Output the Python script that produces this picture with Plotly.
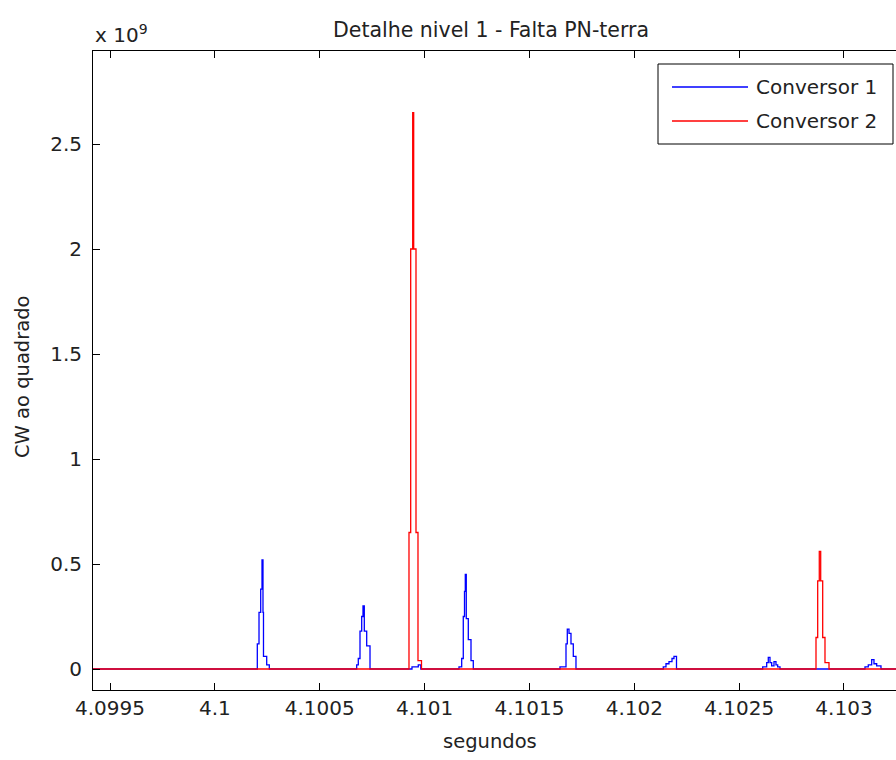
import plotly.graph_objects as go

# ---------------- data (time in s, CW^2 in units of 1e9) ----------------
t_start = 4.0994189
t_end = 4.1032480

conv1_t = [t_start,
           4.1002024, 4.1002105, 4.1002186, 4.1002248, 4.1002295, 4.1002319, 4.1002472, 4.1002596,
           4.1006763, 4.1006840, 4.1006921, 4.1007002, 4.1007064, 4.1007126, 4.1007240, 4.1007398,
           4.1009400, 4.1009700, 4.1009820,
           4.1011641, 4.1011770, 4.1011846, 4.1011904, 4.1011942, 4.1011989, 4.1012085, 4.1012214, 4.1012323,
           4.1016457, 4.1016744, 4.1016806, 4.1016887, 4.1016982, 4.1017092, 4.1017220,
           4.1021383, 4.1021512, 4.1021655, 4.1021798, 4.1021893, 4.1022013,
           4.1026123, 4.1026314, 4.1026390, 4.1026471, 4.1026552, 4.1026662, 4.1026757, 4.1026838, 4.1026948,
           4.1031001, 4.1031158, 4.1031321, 4.1031430, 4.1031559, 4.1031764,
           t_end]
conv1_v = [0.0,
           0.12, 0.27, 0.38, 0.52, 0.27, 0.06, 0.02, 0.0,
           0.02, 0.05, 0.18, 0.25, 0.30, 0.18, 0.11, 0.0,
           0.01, 0.02, 0.0,
           0.01, 0.05, 0.25, 0.37, 0.45, 0.24, 0.14, 0.04, 0.0,
           0.01, 0.12, 0.19, 0.17, 0.12, 0.06, 0.0,
           0.01, 0.025, 0.035, 0.05, 0.06, 0.0,
           0.01, 0.03, 0.055, 0.03, 0.015, 0.035, 0.02, 0.01, 0.0,
           0.01, 0.02, 0.045, 0.025, 0.015, 0.0,
           0.0]

conv2_t = [t_start,
           4.1009257, 4.1009338, 4.1009434, 4.1009481, 4.1009591, 4.1009686, 4.1009853,
           4.1028665, 4.1028746, 4.1028822, 4.1028889, 4.1028984, 4.1029094, 4.1029285,
           t_end]
conv2_v = [0.0,
           0.65, 2.0, 2.65, 2.0, 0.65, 0.04, 0.0,
           0.15, 0.42, 0.56, 0.42, 0.15, 0.03, 0.0,
           0.0]

x_ticks = [4.0995, 4.1, 4.1005, 4.101, 4.1015, 4.102, 4.1025, 4.103]
x_tick_labels = ["4.0995", "4.1", "4.1005", "4.101", "4.1015", "4.102", "4.1025", "4.103"]
y_ticks = [0, 0.5, 1, 1.5, 2, 2.5]
y_tick_labels = ["0", "0.5", "1", "1.5", "2", "2.5"]
y_min, y_max = -0.1, 2.943

series_names = ["Conversor 1", "Conversor 2"]
series_colors = ["#0000FF", "#FF0000"]

# ---------------- figure ----------------
FONT = "DejaVu Sans"
TXT = "#222222"

fig = go.Figure()
fig.add_trace(go.Scatter(x=conv1_t, y=conv1_v, mode="lines", line_shape="hv",
                         line=dict(color=series_colors[0], width=1.3),
                         name=series_names[0], showlegend=False))
fig.add_trace(go.Scatter(x=conv2_t, y=conv2_v, mode="lines", line_shape="hv",
                         line=dict(color=series_colors[1], width=1.3),
                         name=series_names[1], showlegend=False))

fig.update_layout(
    width=896, height=760,
    margin=dict(l=93, r=0, t=51, b=70),
    paper_bgcolor="white", plot_bgcolor="white",
    font=dict(family=FONT, size=20, color=TXT),
    showlegend=False,
)

fig.update_xaxes(range=[t_start, t_end], tickvals=x_ticks, ticktext=x_tick_labels,
                 ticks="inside", ticklen=7, tickcolor="black", tickwidth=1,
                 showline=True, linecolor="black", linewidth=1, mirror="ticks",
                 showgrid=False, zeroline=False,
                 tickfont=dict(family=FONT, size=20, color=TXT))
fig.update_yaxes(range=[y_min, y_max], tickvals=y_ticks, ticktext=y_tick_labels,
                 ticks="inside", ticklen=7, tickcolor="black", tickwidth=1,
                 showline=True, linecolor="black", linewidth=1, mirror=False,
                 showgrid=False, zeroline=False, ticklabelstandoff=6,
                 tickfont=dict(family=FONT, size=20, color=TXT))

# paper-coordinate helpers (plot area 93..896 x 51..690 px)
PL, PR, PT, PB = 93, 896, 51, 690
def px(x):
    return (x - PL) / (PR - PL)
def py(y):
    return (PB - y) / (PB - PT)

# title, axis labels, exponent
fig.add_annotation(text="Detalhe nivel 1 - Falta PN-terra", xref="paper", yref="paper",
                   x=px(491), y=py(30), xanchor="center", yanchor="middle", showarrow=False,
                   font=dict(family=FONT, size=20.5, color=TXT))
fig.add_annotation(text="segundos", xref="paper", yref="paper",
                   x=px(490), y=py(741), xanchor="center", yanchor="middle", showarrow=False,
                   font=dict(family=FONT, size=19.5, color=TXT))
fig.add_annotation(text="CW ao quadrado", xref="paper", yref="paper", textangle=-90,
                   x=px(22), y=py(377), xanchor="center", yanchor="middle", showarrow=False,
                   font=dict(family=FONT, size=19.5, color=TXT))
fig.add_annotation(text="x 10<sup>9</sup>", xref="paper", yref="paper",
                   x=px(93), y=py(34), xanchor="left", yanchor="middle", showarrow=False,
                   font=dict(family=FONT, size=20, color=TXT))

# custom legend box (MATLAB style)
fig.add_shape(type="rect", xref="paper", yref="paper",
              x0=px(658), x1=px(893), y0=py(144), y1=py(64),
              line=dict(color="black", width=1), fillcolor="white", layer="above")
for name, col, yy in zip(series_names, series_colors, [87, 121]):
    fig.add_shape(type="line", xref="paper", yref="paper",
                  x0=px(672), x1=px(748), y0=py(yy), y1=py(yy),
                  line=dict(color=col, width=1.3), layer="above")
    fig.add_annotation(text=name, xref="paper", yref="paper",
                       x=px(754), y=py(yy), xanchor="left", yanchor="middle", showarrow=False,
                       font=dict(family=FONT, size=20, color=TXT))

fig.write_html("out.html")
